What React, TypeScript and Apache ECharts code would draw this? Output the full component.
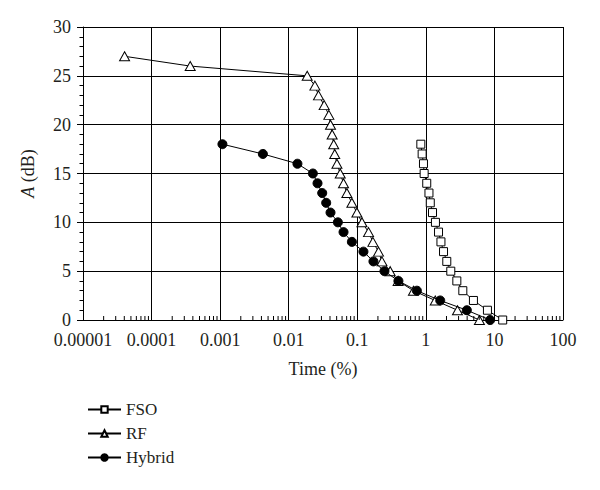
import React, { useEffect, useRef } from "react";
import * as echarts from "echarts";

// Attenuation levels (dB)
const fsoA = [18, 17, 16, 15, 14, 13, 12, 11, 10, 9, 8, 7, 6, 5, 4, 3, 2, 1, 0];
const fsoTime = [0.845, 0.883, 0.923, 0.944, 1.03, 1.11, 1.16, 1.25, 1.38, 1.53, 1.66, 1.81, 2.02, 2.31, 2.83, 3.46, 4.94, 7.91, 13.2];

const rfA = [27, 26, 25, 24, 23, 22, 21, 20, 19, 18, 17, 16, 15, 14, 13, 12, 11, 10, 9, 8, 7, 6, 5, 4, 3, 2, 1, 0];
const rfTime = [0.0000404, 0.000366, 0.0186, 0.0241, 0.0272, 0.0329, 0.0385, 0.0407, 0.043, 0.0453, 0.0469, 0.0505, 0.0564, 0.063, 0.0705, 0.0834, 0.0987, 0.117, 0.146, 0.169, 0.204, 0.229, 0.302, 0.394, 0.659, 1.37, 2.89, 6.04];

const hybridA = [18, 17, 16, 15, 14, 13, 12, 11, 10, 9, 8, 7, 6, 5, 4, 3, 2, 1, 0];
const hybridTime = [0.00108, 0.0042, 0.0134, 0.0225, 0.0263, 0.0308, 0.0352, 0.0407, 0.0521, 0.063, 0.0834, 0.123, 0.172, 0.249, 0.398, 0.74, 1.62, 3.96, 8.65];

const xTickLabels = ["0.00001", "0.0001", "0.001", "0.01", "0.1", "1", "10", "100"];
const decadeStarts = [0.00001, 0.0001, 0.001, 0.01, 0.1, 1, 10];
const minorMultipliers = [2, 3, 4, 5, 6, 7, 8, 9];

const FONT = "Liberation Serif";
const TXT = "#231f20";
const FS = 18;

export default function App() {
  const ref = useRef<HTMLDivElement>(null);
  useEffect(() => {
    document.body.style.margin = "0";
    if (!ref.current) return;
    const chart = echarts.init(ref.current, null, { renderer: "svg" });
    const pairs = (xs: number[], ys: number[]) => xs.map((x, i) => [x, ys[i]]);
    const minorTicks: number[][] = [];
    decadeStarts.forEach((d) => minorMultipliers.forEach((m) => minorTicks.push([d * m, 0])));
    const lineStyle = { color: "#000", width: 1 };
    chart.setOption({
      animation: false,
      textStyle: { fontFamily: FONT, color: TXT },
      grid: { left: 83, right: 37, top: 27, bottom: 170 },
      legend: {
        data: ["FSO", "RF", "Hybrid"],
        orient: "vertical",
        left: 82,
        top: 396,
        itemWidth: 33,
        itemHeight: 8,
        itemGap: 7,
        textStyle: { fontFamily: FONT, fontSize: 17, color: TXT },
      },
      xAxis: {
        type: "log",
        logBase: 10,
        min: 0.00001,
        max: 100,
        name: "Time (%)",
        nameLocation: "middle",
        nameGap: 40,
        nameTextStyle: { fontFamily: FONT, fontSize: FS, color: TXT },
        axisLine: { show: true, lineStyle: { color: "#000", width: 1 } },
        axisTick: { show: true, inside: true, length: 5, lineStyle: { color: "#000" } },
        axisLabel: {
          fontFamily: FONT,
          fontSize: FS,
          color: TXT,
          margin: 11,
          formatter: (v: number) => {
            const idx = Math.round(Math.log10(v)) + 5;
            return xTickLabels[idx] ?? "";
          },
        },
        splitLine: { show: true, lineStyle: { color: "#000", width: 1 } },
      },
      yAxis: {
        type: "value",
        min: 0,
        max: 30,
        interval: 5,
        name: "{i|A} (dB)",
        nameLocation: "middle",
        nameGap: 46,
        nameRotate: 90,
        nameTextStyle: {
          fontFamily: FONT,
          fontSize: FS,
          color: TXT,
          rich: { i: { fontStyle: "italic", fontFamily: FONT, fontSize: FS, color: TXT } },
        },
        axisLine: { show: true, lineStyle: { color: "#000", width: 1 } },
        axisTick: { show: true, inside: false, length: 6, lineStyle: { color: "#000" } },
        minorTick: { show: true, splitNumber: 5, length: 3.5, lineStyle: { color: "#000" } },
        axisLabel: { fontFamily: FONT, fontSize: FS, color: TXT, margin: 12 },
        splitLine: { show: true, lineStyle: { color: "#000", width: 1 } },
      },
      series: [
        {
          name: "minorTicks",
          type: "custom",
          silent: true,
          clip: false,
          z: 5,
          data: minorTicks,
          renderItem: (params: any, api: any) => {
            const p = api.coord([api.value(0), 0]);
            return {
              type: "line",
              shape: { x1: p[0], y1: p[1], x2: p[0], y2: p[1] - 4 },
              style: { stroke: "#000", lineWidth: 1 },
            };
          },
        },
        {
          name: "FSO",
          type: "line",
          data: pairs(fsoTime, fsoA),
          symbol: "rect",
          symbolSize: 8,
          lineStyle,
          itemStyle: { color: "#fff", borderColor: "#000", borderWidth: 1 },
          z: 3,
        },
        {
          name: "RF",
          type: "line",
          data: pairs(rfTime, rfA),
          symbol: "triangle",
          symbolSize: [10, 9],
          lineStyle,
          itemStyle: { color: "#fff", borderColor: "#000", borderWidth: 1 },
          z: 3,
        },
        {
          name: "Hybrid",
          type: "line",
          data: pairs(hybridTime, hybridA),
          symbol: "circle",
          symbolSize: 9,
          lineStyle,
          itemStyle: { color: "#000", borderColor: "#000", borderWidth: 1 },
          z: 4,
        },
      ],
    });
    return () => chart.dispose();
  }, []);
  return <div ref={ref} style={{ width: 600, height: 490, background: "#fff" }} />;
}
